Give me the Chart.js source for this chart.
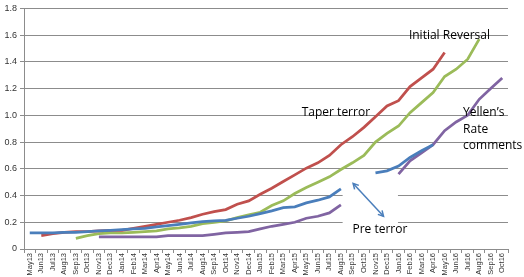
<!DOCTYPE html>
<html lang="en">
<head>
    <meta charset="UTF-8">
    <title>Reversal chart</title>
    <style>
        body {
            margin: 0;
            padding: 0;
            background-color: #fff;
        }
    </style>
</head>
<body>
    <canvas id="reversalChart" width="524" height="277"></canvas>

    <script src="https://cdn.jsdelivr.net/npm/chart.js"></script>
    <script>
        // Month labels on the x axis
        const months = ['May13','Jun13','Jul13','Aug13','Sep13','Oct13','Nov13','Dec13',
            'Jan14','Feb14','Mar14','Apr14','May14','Jun14','Jul14','Aug14','Sep14','Oct14','Nov14','Dec14',
            'Jan15','Feb15','Mar15','Apr15','May15','Jun15','Jul15','Aug15','Sep15','Oct15','Nov15','Dec15',
            'Jan16','Feb16','Mar16','Apr16','May16','Jun16','Jul16','Aug16','Sep16','Oct16'];

        // Series values (null = no point drawn)
        const blueValues = [0.12,0.12,0.12,0.125,0.125,0.13,0.135,0.14,0.145,0.15,0.155,0.165,0.175,0.185,
            0.195,0.205,0.21,0.215,0.23,0.245,0.265,0.285,0.31,0.315,0.345,0.365,0.39,0.45,
            null,null,0.57,0.585,0.62,0.685,0.735,0.78,null,null,null,null,null,null];
        const redValues = [null,0.10,0.115,0.125,0.13,0.13,0.135,0.14,0.14,0.155,0.17,0.185,0.20,0.215,
            0.235,0.26,0.28,0.295,0.335,0.36,0.41,0.455,0.505,0.555,0.605,0.645,0.70,0.78,
            0.84,0.91,0.99,1.07,1.11,1.215,1.28,1.345,1.47,null,null,null,null,null];
        const greenValues = [null,null,null,null,0.08,0.10,0.115,0.12,0.12,0.125,0.13,0.135,0.15,0.158,
            0.17,0.19,0.20,0.21,0.235,0.255,0.275,0.325,0.36,0.415,0.46,0.50,0.54,0.595,
            0.645,0.70,0.80,0.865,0.92,1.02,1.095,1.17,1.29,1.345,1.42,1.57,null,null];
        const purpleValues = [null,null,null,null,null,null,0.09,0.09,0.09,0.09,0.09,0.09,0.10,0.10,
            0.10,0.10,0.11,0.12,0.125,0.13,0.15,0.17,0.185,0.20,0.23,0.245,0.27,0.33,
            null,null,null,null,0.56,0.66,0.72,0.78,0.885,0.95,1.0,1.12,1.20,1.28];

        // Text notes, placed at [category index, y value]
        const notes = [
            { text: 'Initial Reversal', at: [32.9, 1.594] },
            { text: 'Taper terror', at: [23.6, 1.022] },
            { text: 'Yellen\u2019s', at: [37.6, 1.022] },
            { text: 'Rate', at: [37.6, 0.895] },
            { text: 'comments', at: [37.6, 0.77] },
            { text: 'Pre terror', at: [28.0, 0.146] }
        ];
        const arrowEnds = [[28.06, 0.49], [30.7, 0.245]];
        const blankBox = { from: [27.15, 0.1], to: [31.95, 0.55] };

        const gridGray = '#8c8c8c';

        function arrowHead(ctx, x1, y1, x2, y2) {
            const a = Math.atan2(y2 - y1, x2 - x1);
            const len = 6;
            ctx.beginPath();
            ctx.moveTo(x2 - len * Math.cos(a - 0.5), y2 - len * Math.sin(a - 0.5));
            ctx.lineTo(x2, y2);
            ctx.lineTo(x2 - len * Math.cos(a + 0.5), y2 - len * Math.sin(a + 0.5));
            ctx.stroke();
        }

        const notesPlugin = {
            id: 'notes',
            beforeDatasetsDraw(chart) {
                // white text box that hides the grid behind "Pre terror"
                const { ctx, scales: { x, y } } = chart;
                const x1 = x.getPixelForValue(blankBox.from[0]);
                const x2 = x.getPixelForValue(blankBox.to[0]);
                const y1 = y.getPixelForValue(blankBox.to[1]);
                const y2 = y.getPixelForValue(blankBox.from[1]);
                ctx.save();
                ctx.fillStyle = '#fff';
                ctx.fillRect(x1, y1, x2 - x1, y2 - y1);
                ctx.restore();
            },
            afterDatasetsDraw(chart) {
                const { ctx, scales: { x, y } } = chart;
                ctx.save();
                ctx.font = '12px "Open Sans"';
                ctx.fillStyle = '#000';
                ctx.textAlign = 'left';
                ctx.textBaseline = 'middle';
                notes.forEach(n => {
                    ctx.fillText(n.text, x.getPixelForValue(n.at[0]), y.getPixelForValue(n.at[1]));
                });

                // double headed arrow
                const ax = x.getPixelForValue(arrowEnds[0][0]);
                const ay = y.getPixelForValue(arrowEnds[0][1]);
                const bx = x.getPixelForValue(arrowEnds[1][0]);
                const by = y.getPixelForValue(arrowEnds[1][1]);
                ctx.strokeStyle = '#4a7ebb';
                ctx.lineWidth = 1.5;
                ctx.beginPath();
                ctx.moveTo(ax, ay);
                ctx.lineTo(bx, by);
                ctx.stroke();
                arrowHead(ctx, ax, ay, bx, by);
                arrowHead(ctx, bx, by, ax, ay);
                ctx.restore();
            }
        };

        function series(values, color) {
            return {
                data: values,
                borderColor: color,
                backgroundColor: color,
                borderWidth: 2.75,
                pointRadius: 0,
                tension: 0,
                spanGaps: false
            };
        }

        const ctx = document.getElementById('reversalChart').getContext('2d');
        const reversalChart = new Chart(ctx, {
            type: 'line',
            data: {
                labels: months,
                datasets: [
                    series(blueValues, '#4a7ebb'),
                    series(redValues, '#c0504d'),
                    series(greenValues, '#9bbb59'),
                    series(purpleValues, '#8064a2')
                ]
            },
            options: {
                responsive: false,
                animation: false,
                devicePixelRatio: 1,
                layout: { padding: { left: 2, right: 16, top: 6, bottom: 0 } },
                plugins: {
                    legend: { display: false },
                    tooltip: { enabled: false }
                },
                scales: {
                    x: {
                        offset: true,
                        grid: { offset: true, drawOnChartArea: false, tickLength: 4, color: gridGray },
                        border: { color: gridGray },
                        ticks: {
                            autoSkip: false,
                            minRotation: 90,
                            maxRotation: 90,
                            padding: 0,
                            color: '#333',
                            font: { family: 'Liberation Sans', size: 7.5 }
                        },
                        afterFit: s => { s.height = 28; }
                    },
                    y: {
                        min: 0,
                        max: 1.8,
                        grid: { color: gridGray, tickLength: 4 },
                        border: { color: gridGray },
                        ticks: {
                            stepSize: 0.2,
                            padding: 3,
                            color: '#333',
                            font: { family: 'Liberation Sans', size: 9 }
                        },
                        afterFit: s => { s.width = 22; }
                    }
                }
            },
            plugins: [notesPlugin]
        });
    </script>
</body>
</html>
